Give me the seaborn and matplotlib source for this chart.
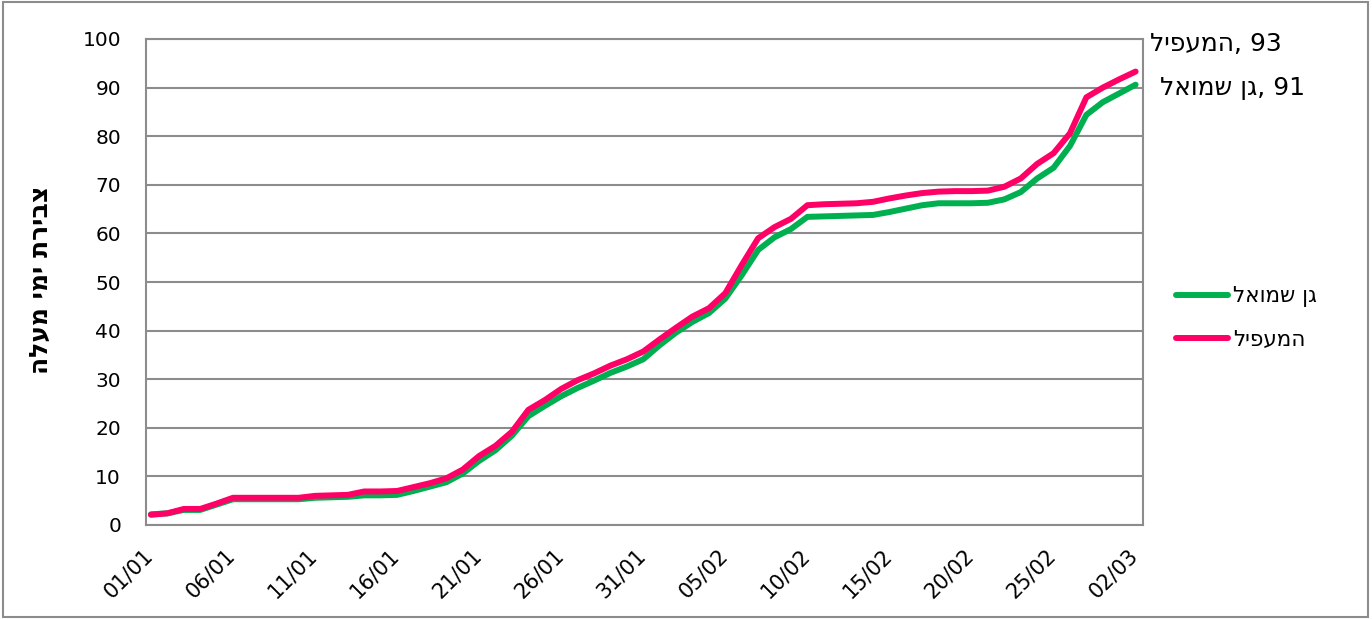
import matplotlib
matplotlib.use("Agg")
import matplotlib.pyplot as plt
import seaborn as sns
import pandas as pd
from matplotlib.patches import Rectangle
from matplotlib.lines import Line2D
import matplotlib.transforms as mtransforms

# ---- data ----
day_index = list(range(61))
tick_positions = [0, 5, 10, 15, 20, 25, 30, 35, 40, 45, 50, 55, 60]
tick_labels = ["01/01", "06/01", "11/01", "16/01", "21/01", "26/01", "31/01",
               "05/02", "10/02", "15/02", "20/02", "25/02", "02/03"]

gan_shmuel = [2.2, 2.4, 3.1, 3.1, 4.2, 5.3, 5.3, 5.3, 5.3, 5.3,
              5.6, 5.7, 5.8, 6.1, 6.1, 6.2, 7.0, 7.9, 8.8, 10.6,
              13.2, 15.4, 18.4, 22.4, 24.5, 26.5, 28.2, 29.7, 31.3, 32.6,
              34.1, 37.0, 39.6, 41.8, 43.6, 46.6, 51.4, 56.6, 59.2, 60.9,
              63.4, 63.5, 63.6, 63.7, 63.8, 64.4, 65.1, 65.8, 66.2, 66.2,
              66.2, 66.3, 67.0, 68.5, 71.3, 73.5, 78.0, 84.4, 87.0, 88.8,
              90.6]
hamaapil = [2.1, 2.4, 3.3, 3.3, 4.4, 5.6, 5.6, 5.6, 5.6, 5.6,
            6.0, 6.1, 6.2, 6.9, 6.9, 7.0, 7.8, 8.6, 9.6, 11.4,
            14.2, 16.3, 19.2, 23.7, 25.7, 28.0, 29.8, 31.2, 32.8, 34.1,
            35.7, 38.2, 40.6, 42.9, 44.6, 47.7, 53.5, 59.0, 61.3, 63.0,
            65.8, 66.0, 66.1, 66.2, 66.5, 67.2, 67.8, 68.3, 68.6, 68.7,
            68.7, 68.8, 69.6, 71.3, 74.3, 76.5, 80.6, 88.0, 90.0, 91.7,
            93.3]

series_names = ["גן שמואל", "המעפיל"]
series_colors = ["#00B050", "#FF0066"]
end_values = ["91", "93"]
y_label = "צבירת ימי מעלה"


def vis(s):
    # matplotlib has no bidi support: reverse Hebrew to visual order
    return s[::-1]


df = pd.DataFrame({
    "day": day_index * 2,
    "value": gan_shmuel + hamaapil,
    "series": [series_names[0]] * 61 + [series_names[1]] * 61,
})

sns.set_theme(style="white")
plt.rcParams["font.family"] = ["DejaVu Sans"]
plt.rcParams["text.color"] = "black"

fig = plt.figure(figsize=(13.72, 6.19), dpi=100)
ax = fig.add_axes([146 / 1372, 1 - 525 / 619, (1143 - 146) / 1372, (525 - 39) / 619])

sns.lineplot(data=df, x="day", y="value", hue="series",
             palette=dict(zip(series_names, series_colors)),
             linewidth=4.3, ax=ax, legend=False)
for ln in ax.get_lines():
    ln.set_solid_capstyle("round")
    ln.set_solid_joinstyle("round")

ax.set_xlim(-0.3, 60.45)
ax.set_ylim(0, 100)
ax.set_yticks(range(0, 101, 10))
ax.set_yticklabels([str(v) for v in range(0, 101, 10)], fontsize=14.5)
ax.set_xticks(tick_positions)
ax.set_xticklabels(tick_labels, rotation=45, ha="right", rotation_mode="anchor",
                   fontsize=15)
ax.tick_params(axis="both", length=0, colors="black")
ax.tick_params(axis="y", pad=18)
ax.tick_params(axis="x", pad=13)
shift = mtransforms.ScaledTranslation(-8 / 100, -2 / 100, fig.dpi_scale_trans)
for lbl in ax.get_xticklabels():
    lbl.set_transform(lbl.get_transform() + shift)
ax.grid(axis="y", color="#8c8c8c", linewidth=1.5)
ax.set_axisbelow(True)
for sp in ax.spines.values():
    sp.set_color("#8c8c8c")
    sp.set_linewidth(1.5)
ax.set_xlabel("")
ax.set_ylabel("")

fig.text(41 / 1372, 1 - 280 / 619, vis(y_label), rotation=90, fontsize=18,
         fontweight="bold", ha="center", va="center", color="black")

# legend (manual placement)
handles = [Line2D([0], [0], color=c, lw=4.3, solid_capstyle="round") for c in series_colors]
leg = fig.legend(handles, [vis(n) for n in series_names], loc="center left",
                 bbox_to_anchor=(1157 / 1372, 1 - 318 / 619), frameon=False,
                 fontsize=15.5, handlelength=2.4, handletextpad=0.25, labelspacing=1.05,
                 labelcolor="black")

# end labels
trans = mtransforms.blended_transform_factory(ax.transAxes, ax.transData)
ax.text(1.007, 99.0, vis(series_names[1]) + " ,"[::-1] + end_values[1], transform=trans,
        fontsize=18, va="center", ha="left", clip_on=False, color="black")
ax.text(1.017, 90.0, vis(series_names[0]) + " ,"[::-1] + end_values[0], transform=trans,
        fontsize=18, va="center", ha="left", clip_on=False, color="black")

fig.patches.append(Rectangle((0.002, 0.003), 0.995, 0.994, transform=fig.transFigure,
                             fill=False, edgecolor="#8c8c8c", linewidth=1.5))

fig.savefig("out.png", dpi=100)
